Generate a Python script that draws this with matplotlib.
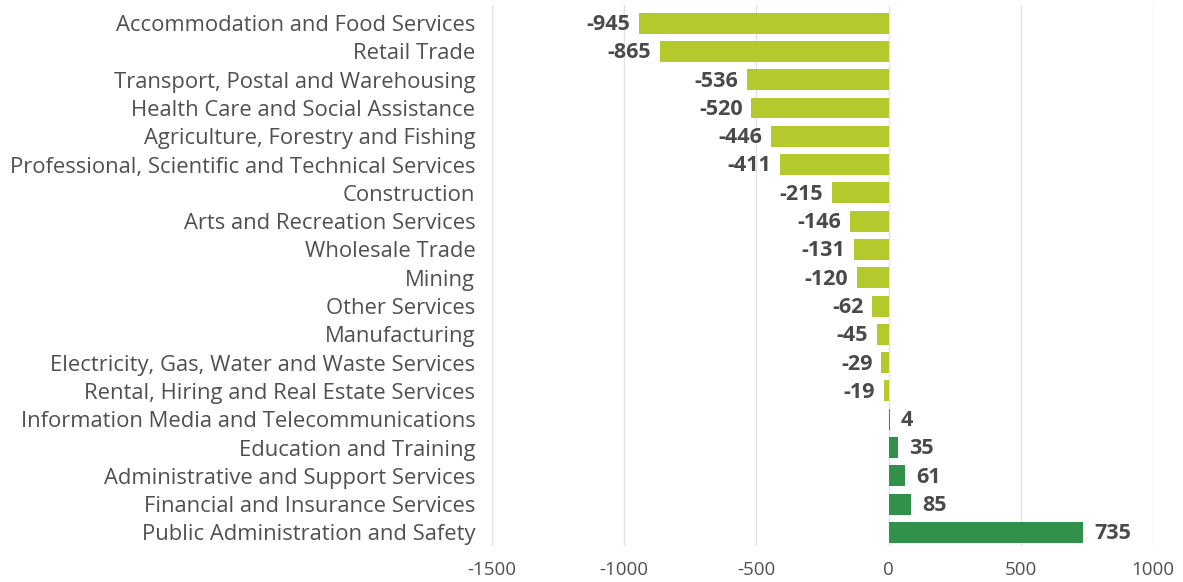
import matplotlib
matplotlib.use("Agg")
import matplotlib.pyplot as plt

categories = [
    "Accommodation and Food Services",
    "Retail Trade",
    "Transport, Postal and Warehousing",
    "Health Care and Social Assistance",
    "Agriculture, Forestry and Fishing",
    "Professional, Scientific and Technical Services",
    "Construction",
    "Arts and Recreation Services",
    "Wholesale Trade",
    "Mining",
    "Other Services",
    "Manufacturing",
    "Electricity, Gas, Water and Waste Services",
    "Rental, Hiring and Real Estate Services",
    "Information Media and Telecommunications",
    "Education and Training",
    "Administrative and Support Services",
    "Financial and Insurance Services",
    "Public Administration and Safety",
]
values = [-945, -865, -536, -520, -446, -411, -215, -146, -131, -120,
          -62, -45, -29, -19, 4, 35, 61, 85, 735]
xticks = [-1500, -1000, -500, 0, 500, 1000]

NEG = "#b3c92c"
POS = "#31914a"
TXT = "#4a4a4a"
LBL = "#505050"

plt.rcParams['font.family'] = ['Open Sans', 'DejaVu Sans']

fig = plt.figure(figsize=(11.83, 5.82), dpi=100)
ax = fig.add_axes([492/1183, 1-546/582, (1153-492)/1183, (546-5)/582])

ypos = list(range(len(categories)))
colors = [NEG if v < 0 else POS for v in values]
ax.barh(ypos, values, height=0.74, color=colors, zorder=3)

for y, v in zip(ypos, values):
    if v < 0:
        ax.text(v - 32, y + 0.05, f"{v}", ha="right", va="center", fontsize=15.5,
                fontweight="bold", color=TXT, zorder=4)
    else:
        ax.text(v + 42, y + 0.05, f"{v}", ha="left", va="center", fontsize=15.5,
                fontweight="bold", color=TXT, zorder=4)

ax.set_xlim(-1500, 1000)
ax.set_ylim(len(categories) - 0.52, -0.64)
ax.set_xticks(xticks)
ax.set_xticklabels([str(t) for t in xticks])
ax.set_yticks(ypos)
ax.set_yticklabels(categories)
ax.tick_params(axis="y", length=0, pad=12, labelsize=15.8, labelcolor=LBL)
ax.tick_params(axis="x", length=0, pad=11, labelsize=13.5, labelcolor=LBL)
ax.grid(axis="x", color="#e2e2e2", linewidth=1, zorder=0)
for s in ax.spines.values():
    s.set_visible(False)

fig.savefig("out.png", dpi=100)
